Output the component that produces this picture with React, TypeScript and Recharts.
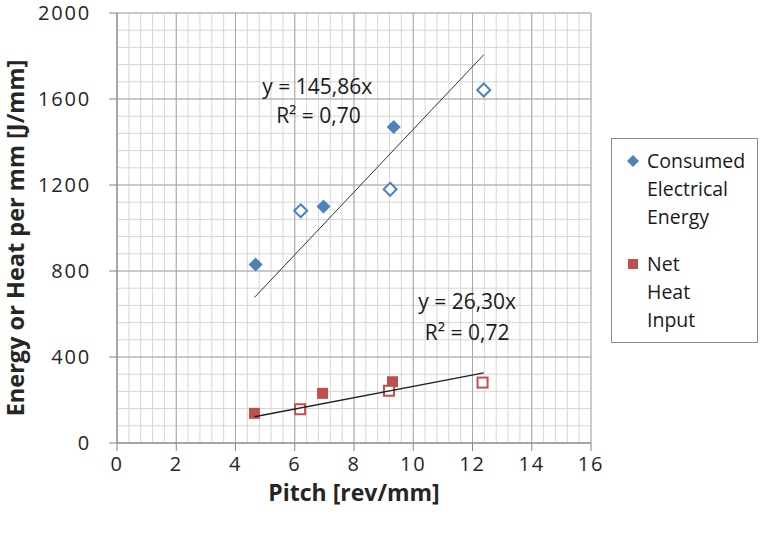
import React from 'react';
import {
  ScatterChart,
  Scatter,
  XAxis,
  YAxis,
  CartesianGrid,
  ReferenceDot,
} from 'recharts';

const BLUE = '#4F81BD';
const RED = '#C0504D';
const FONT = '"Open Sans", "Noto Sans", sans-serif';

// values
const xTicks = [0, 2, 4, 6, 8, 10, 12, 14, 16];
const yTicks = [0, 400, 800, 1200, 1600, 2000];

const consumedFilled = [
  { x: 4.68, y: 830 },
  { x: 6.97, y: 1100 },
  { x: 9.34, y: 1470 },
];
const consumedOpen = [
  { x: 6.2, y: 1080 },
  { x: 9.22, y: 1180 },
  { x: 12.38, y: 1642 },
];
const heatFilled = [
  { x: 4.64, y: 138 },
  { x: 6.94, y: 231 },
  { x: 9.3, y: 285 },
];
const heatOpen = [
  { x: 6.18, y: 157 },
  { x: 9.18, y: 243 },
  { x: 12.34, y: 281 },
];
const consumedTrend = [
  { x: 4.64, y: 677 },
  { x: 12.38, y: 1806 },
];
const heatTrend = [
  { x: 4.64, y: 122 },
  { x: 12.38, y: 326 },
];

const equationLabels = [
  { x: 6.76, y: 1660, text: 'y = 145,86x' },
  { x: 6.8, y: 1521, text: 'R² = 0,70' },
  { x: 11.82, y: 656, text: 'y = 26,30x' },
  { x: 11.82, y: 516, text: 'R² = 0,72' },
];

const diamond = (cx: number, cy: number, r: number) =>
  `${cx},${cy - r} ${cx + r},${cy} ${cx},${cy + r} ${cx - r},${cy}`;

const FilledDiamond = (p: any) => <polygon points={diamond(p.cx, p.cy, 7)} fill={BLUE} />;
const OpenDiamond = (p: any) => (
  <polygon points={diamond(p.cx, p.cy, 6.5)} fill="#fff" stroke={BLUE} strokeWidth={2} />
);
const FilledSquare = (p: any) => <rect x={p.cx - 5.5} y={p.cy - 5.5} width={11} height={11} fill={RED} />;
const OpenSquare = (p: any) => (
  <rect x={p.cx - 5} y={p.cy - 5} width={10} height={10} fill="#fff" stroke={RED} strokeWidth={2} />
);
const NoDot = () => <g />;

const tickStyle = { fontFamily: FONT, fontSize: 20, fill: '#262626', letterSpacing: 1.8 };

function LegendBox() {
  const line = { height: 28, lineHeight: '28px' };
  return (
    <div
      style={{
        position: 'absolute',
        left: 611,
        top: 138,
        width: 147,
        height: 205,
        boxSizing: 'border-box',
        border: '1px solid #8c8c8c',
        background: '#fff',
        fontFamily: FONT,
        fontSize: 19.5,
        color: '#1a1a1a',
        paddingTop: 8,
        whiteSpace: 'nowrap',
      }}
    >
      <div style={{ position: 'relative', paddingLeft: 35 }}>
        <svg width={14} height={14} style={{ position: 'absolute', left: 14, top: 7 }}>
          <polygon points={diamond(7, 7, 6)} fill={BLUE} />
        </svg>
        <div style={line}>Consumed</div>
        <div style={line}>Electrical</div>
        <div style={line}>Energy</div>
      </div>
      <div style={{ position: 'relative', paddingLeft: 35, marginTop: 19 }}>
        <svg width={14} height={14} style={{ position: 'absolute', left: 14, top: 7 }}>
          <rect x={2} y={2} width={10} height={10} fill={RED} />
        </svg>
        <div style={line}>Net</div>
        <div style={line}>Heat</div>
        <div style={line}>Input</div>
      </div>
    </div>
  );
}

export default function App() {
  return (
    <div style={{ position: 'absolute', left: 0, top: 0, width: 765, height: 538, background: '#fff' }}>
      <ScatterChart width={765} height={538} margin={{ top: 13, right: 174, bottom: 0, left: 0 }}>
        {/* minor grid */}
        <CartesianGrid
          stroke="#d6d6d6"
          verticalCoordinatesGenerator={({ offset }: any) =>
            Array.from({ length: 41 }, (_, i) => offset.left + (i * offset.width) / 40)
          }
          horizontalCoordinatesGenerator={({ offset }: any) =>
            Array.from({ length: 26 }, (_, i) => offset.top + (i * offset.height) / 25)
          }
        />
        {/* major grid */}
        <CartesianGrid stroke="#a8a8a8" />
        <XAxis
          type="number"
          dataKey="x"
          domain={[0, 16]}
          ticks={xTicks}
          interval={0}
          height={95}
          stroke="#868686"
          tickSize={8}
          tickMargin={6}
          fontSize={20}
          tick={tickStyle}
          label={{
            content: ({ viewBox }: any) => (
              <text
                x={viewBox.x + viewBox.width / 2}
                y={viewBox.y + 49}
                textAnchor="middle"
                dominantBaseline="central"
                fontFamily={FONT}
                fontSize={23}
                fontWeight="bold"
                fill="#262626"
              >
                Pitch [rev/mm]
              </text>
            ),
          }}
        />
        <YAxis
          type="number"
          dataKey="y"
          domain={[0, 2000]}
          ticks={yTicks}
          interval={0}
          width={117}
          stroke="#868686"
          tickSize={8}
          tickMargin={18}
          fontSize={20}
          tick={tickStyle}
          label={{
            content: () => {
              const cx = 15;
              const cy = 238;
              return (
                <text
                  x={cx}
                  y={cy}
                  transform={`rotate(-90 ${cx} ${cy})`}
                  textAnchor="middle"
                  dominantBaseline="central"
                  fontFamily={FONT}
                  fontSize={23.5}
                  fontWeight="bold"
                  fill="#262626"
                >
                  Energy or Heat per mm [J/mm]
                </text>
              );
            },
          }}
        />
        <Scatter data={consumedFilled} shape={FilledDiamond} isAnimationActive={false} />
        <Scatter data={consumedOpen} shape={OpenDiamond} isAnimationActive={false} />
        <Scatter data={heatFilled} shape={FilledSquare} isAnimationActive={false} />
        <Scatter data={heatOpen} shape={OpenSquare} isAnimationActive={false} />
        <Scatter
          data={consumedTrend}
          line={{ stroke: '#333', strokeWidth: 1 }}
          shape={NoDot}
          isAnimationActive={false}
        />
        <Scatter
          data={heatTrend}
          line={{ stroke: '#222', strokeWidth: 1.4 }}
          shape={NoDot}
          isAnimationActive={false}
        />
        {equationLabels.map((l) => (
          <ReferenceDot
            key={l.text}
            x={l.x}
            y={l.y}
            r={0}
            stroke="none"
            fill="none"
            label={{
              value: l.text,
              position: 'center',
              fontFamily: FONT,
              fontSize: 21,
              fill: '#1a1a1a',
            }}
          />
        ))}
      </ScatterChart>
      <LegendBox />
    </div>
  );
}
